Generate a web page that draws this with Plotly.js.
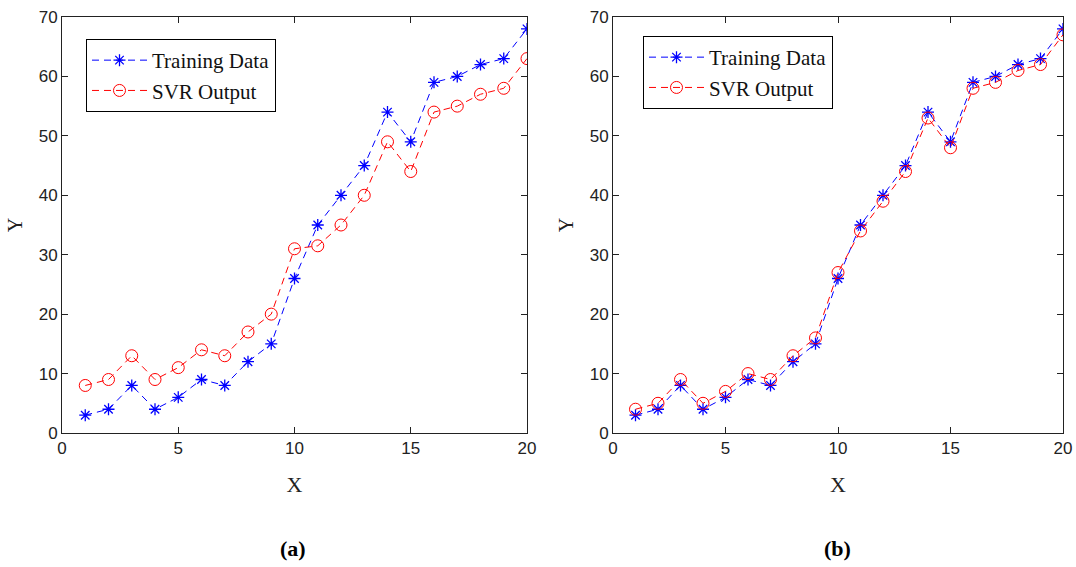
<!DOCTYPE html>
<html>
<head>
<meta charset="utf-8">
<script src="https://cdn.plot.ly/plotly-3.0.1.min.js"></script>
<style>html,body{margin:0;padding:0;background:#fff;}#chart{width:1076px;height:567px;}</style>
</head>
<body>
<div id="chart"></div>
<script>
const xValues = [1,2,3,4,5,6,7,8,9,10,11,12,13,14,15,16,17,18,19,20];
const trainingData = [3,4,8,4,6,9,8,12,15,26,35,40,45,54,49,59,60,62,63,68];
const svrOutputA = [8,9,13,9,11,14,13,17,20,31,31.5,35,40,49,44,54,55,57,58,63];
const svrOutputB = [4,5,9,5,7,10,9,13,16,27,34,39,44,53,48,58,59,61,62,67];
const xTicks = [0,5,10,15,20];
const yTicks = [0,10,20,30,40,50,60,70];
const panelLabels = ['(a)','(b)'];

const blue = '#0000ff', red = '#ff0000';
function trainTrace(xa, ya, leg) {
  return {x: xValues, y: trainingData, xaxis: xa, yaxis: ya, legend: leg, name: 'Training Data',
    type: 'scatter', mode: 'lines+markers',
    line: {color: blue, width: 1, dash: '7px,5px'},
    marker: {symbol: 'asterisk-open', size: 10, color: blue, line: {color: blue, width: 1.3}}};
}
function svrTrace(ys, xa, ya, leg) {
  return {x: xValues, y: ys, xaxis: xa, yaxis: ya, legend: leg, name: 'SVR Output',
    type: 'scatter', mode: 'lines+markers',
    line: {color: red, width: 1, dash: '7px,5px'},
    marker: {symbol: 'circle-open', size: 12, color: red, line: {color: red, width: 1}}};
}
const data = [
  trainTrace('x', 'y', 'legend'), svrTrace(svrOutputA, 'x', 'y', 'legend'),
  trainTrace('x2', 'y2', 'legend2'), svrTrace(svrOutputB, 'x2', 'y2', 'legend2')
];
const tickFont = {family: 'Liberation Sans, Arial, sans-serif', size: 17, color: '#222'};
function xAxis(dom, anchor) {
  return {domain: dom, anchor: anchor, range: [0, 20], tickvals: xTicks, ticks: 'inside', ticklen: 6,
    tickcolor: '#222', showline: true, linecolor: '#222', linewidth: 1, mirror: 'ticks',
    showgrid: false, zeroline: false, tickfont: tickFont,
    title: {text: 'X', font: {family: 'Liberation Serif, Times New Roman, serif', size: 22, color: '#222'}, standoff: 19}};
}
function yAxis(dom, anchor) {
  return {domain: dom, anchor: anchor, range: [0, 70], tickvals: yTicks, ticks: 'inside', ticklen: 6,
    tickcolor: '#222', showline: true, linecolor: '#222', linewidth: 1, mirror: 'ticks',
    showgrid: false, zeroline: false, tickfont: tickFont,
    title: {text: 'Y', font: {family: 'Liberation Serif, Times New Roman, serif', size: 20, color: '#222'}, standoff: 10}};
}
const yDom = [1 - 433/567, 1 - 17/567];
const legFont = {family: 'Liberation Serif, Times New Roman, serif', size: 21, color: '#111'};
const layout = {
  width: 1076, height: 567, margin: {l: 0, r: 0, t: 0, b: 0},
  paper_bgcolor: '#fff', plot_bgcolor: '#fff', showlegend: true,
  xaxis: xAxis([62/1076, 527/1076], 'y'),
  yaxis: yAxis(yDom, 'x'),
  xaxis2: xAxis([613/1076, 1063/1076], 'y2'),
  yaxis2: yAxis(yDom, 'x2'),
  legend: {x: 86/1076, y: 1 - 39/567, xanchor: 'left', yanchor: 'top', bgcolor: '#fff',
    bordercolor: '#000', borderwidth: 1, font: legFont, tracegroupgap: 0, itemwidth: 55},
  legend2: {x: 643/1076, y: 1 - 36/567, xanchor: 'left', yanchor: 'top', bgcolor: '#fff',
    bordercolor: '#000', borderwidth: 1, font: legFont, tracegroupgap: 0, itemwidth: 55},
  annotations: [
    {text: '<b>' + panelLabels[0] + '</b>', x: 293/1076, y: 1 - 548/567, xref: 'paper', yref: 'paper',
      showarrow: false, xanchor: 'center', yanchor: 'middle',
      font: {family: 'Liberation Serif, Times New Roman, serif', size: 22, color: '#000'}},
    {text: '<b>' + panelLabels[1] + '</b>', x: 837/1076, y: 1 - 548/567, xref: 'paper', yref: 'paper',
      showarrow: false, xanchor: 'center', yanchor: 'middle',
      font: {family: 'Liberation Serif, Times New Roman, serif', size: 22, color: '#000'}}
  ]
};
Plotly.newPlot('chart', data, layout, {displayModeBar: false, staticPlot: true});
</script>
</body>
</html>
